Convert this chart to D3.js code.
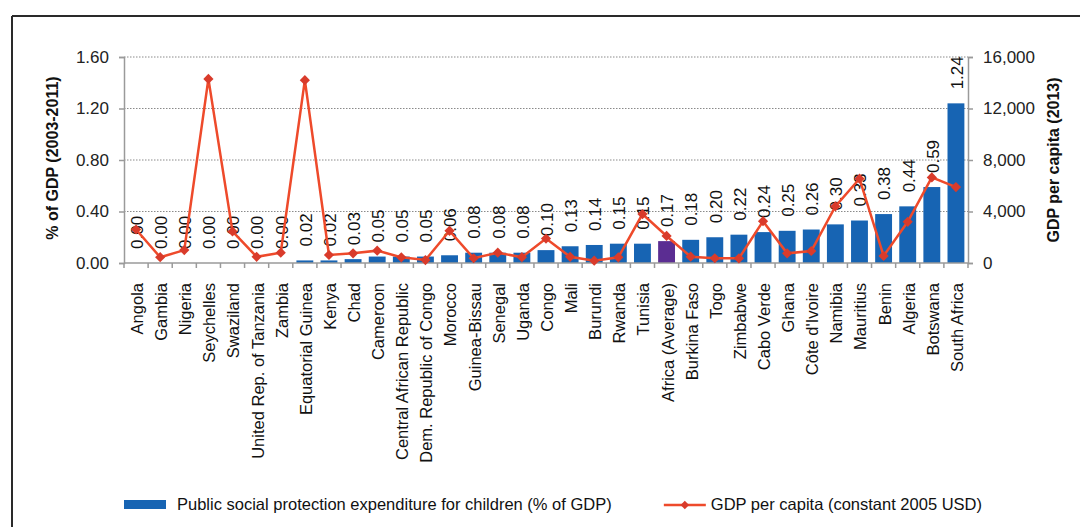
<!DOCTYPE html>
<html><head><meta charset="utf-8">
<script src="https://cdn.jsdelivr.net/npm/d3@7"></script>
<style>
html,body{margin:0;padding:0;background:#fff;}
svg{display:block;font-family:"Liberation Sans",Arial,sans-serif;}
</style></head>
<body>
<svg id="chart" width="1080" height="527"></svg>
<script>
const categories = ["Angola","Gambia","Nigeria","Seychelles","Swaziland","United Rep. of Tanzania","Zambia","Equatorial Guinea","Kenya","Chad","Cameroon","Central African Republic","Dem. Republic of Congo","Morocco","Guinea-Bissau","Senegal","Uganda","Congo","Mali","Burundi","Rwanda","Tunisia","Africa (Average)","Burkina Faso","Togo","Zimbabwe","Cabo Verde","Ghana","Côte d'Ivoire","Namibia","Mauritius","Benin","Algeria","Botswana","South Africa"];
const expenditure = [0,0,0,0,0,0,0,0.02,0.02,0.03,0.05,0.05,0.05,0.06,0.08,0.08,0.08,0.10,0.13,0.14,0.15,0.15,0.17,0.18,0.20,0.22,0.24,0.25,0.26,0.30,0.33,0.38,0.44,0.59,1.24];
const gdpPerCapita = [2600,450,1000,14300,2450,480,800,14200,620,750,960,440,230,2500,370,800,450,1900,480,180,440,3800,2100,490,370,360,3250,750,930,4400,6550,550,3200,6650,5900];
const leftTicks = [0,0.4,0.8,1.2,1.6];
const rightTicks = [0,4000,8000,12000,16000];
const highlight = "Africa (Average)";

const svg = d3.select("#chart");
const x0 = 124, x1 = 968, yTop = 57, yBot = 263;
const x = d3.scaleBand().domain(categories).range([x0, x1]).paddingInner(0.3).paddingOuter(0.15);
const yL = d3.scaleLinear().domain([0,1.6]).range([yBot, yTop]);
const yR = d3.scaleLinear().domain([0,16000]).range([yBot, yTop]);
const step = x.step();
const cx = d => x(d) + x.bandwidth()/2;

// frame
svg.append("line").attr("x1",12).attr("x2",1080).attr("y1",16).attr("y2",16).attr("stroke","#2a2a2a").attr("stroke-width",2);
svg.append("line").attr("x1",12).attr("x2",12).attr("y1",16).attr("y2",527).attr("stroke","#2a2a2a").attr("stroke-width",2);

// grid
svg.append("g").selectAll("line").data(leftTicks.filter(d=>d>0)).join("line")
  .attr("x1",x0).attr("x2",x1).attr("y1",d=>yL(d)).attr("y2",d=>yL(d))
  .attr("stroke","#8a8a8a").attr("stroke-width",1).attr("stroke-dasharray","1.5,1.5");

// bars
svg.append("g").selectAll("rect").data(categories).join("rect")
  .attr("x",d=>x(d)).attr("width",x.bandwidth())
  .attr("y",(d,i)=>yL(expenditure[i])).attr("height",(d,i)=>yBot-yL(expenditure[i]))
  .attr("fill",d=>d===highlight?"#5b2d92":"#1764b3");

// value labels
svg.append("g").selectAll("text").data(categories).join("text")
  .attr("transform",(d,i)=>`translate(${cx(d)},${yL(expenditure[i])-14}) rotate(-90)`)
  .attr("dy","0.4em").attr("text-anchor","start")
  .attr("font-size",17).attr("fill","#111")
  .text((d,i)=>expenditure[i].toFixed(2));

// axes
const axL = svg.append("g").attr("transform",`translate(${x0},0)`)
  .call(d3.axisLeft(yL).tickValues(leftTicks).tickFormat(d3.format(".2f")).tickSize(5).tickPadding(10));
const axR = svg.append("g").attr("transform",`translate(${x1},0)`)
  .call(d3.axisRight(yR).tickValues(rightTicks).tickFormat(d3.format(",")).tickSize(5).tickPadding(10));
[axL,axR].forEach(a=>{
  a.select(".domain").attr("stroke","#9a9a9a").attr("stroke-width",1.5);
  a.selectAll(".tick line").attr("stroke","#9a9a9a").attr("stroke-width",1.5);
  a.selectAll(".tick text").attr("font-size",17).attr("fill","#222").attr("font-family","'Liberation Sans',Arial,sans-serif");
});

// x axis
svg.append("line").attr("x1",x0).attr("x2",x1).attr("y1",yBot).attr("y2",yBot).attr("stroke","#9a9a9a").attr("stroke-width",1.5);
svg.append("g").selectAll("line").data(d3.range(categories.length+1)).join("line")
  .attr("x1",i=>x0+i*step).attr("x2",i=>x0+i*step).attr("y1",yBot).attr("y2",yBot+5)
  .attr("stroke","#9a9a9a").attr("stroke-width",1.5);
svg.append("g").selectAll("text").data(categories).join("text")
  .attr("transform",d=>`translate(${cx(d)},283) rotate(-90)`)
  .attr("dy","0.42em").attr("text-anchor","end")
  .attr("font-size",16.5).attr("fill","#111")
  .text(d=>d);

// line
const line = d3.line().x((d,i)=>cx(categories[i])).y(d=>yR(d));
svg.append("path").datum(gdpPerCapita).attr("d",line)
  .attr("fill","none").attr("stroke","#ee4a2b").attr("stroke-width",2.5);
svg.append("g").selectAll("path").data(gdpPerCapita).join("path")
  .attr("d",d3.symbol().type(d3.symbolSquare).size(52)())
  .attr("transform",(d,i)=>`translate(${cx(categories[i])},${yR(d)}) rotate(45)`)
  .attr("fill","#d93b2b");

// axis titles
svg.append("text").attr("transform","translate(52,158) rotate(-90)")
  .attr("text-anchor","middle").attr("dy","0.35em").attr("font-size",16).attr("font-weight","bold").attr("fill","#111")
  .text("% of GDP (2003-2011)");
svg.append("text").attr("transform","translate(1053,160) rotate(-90)")
  .attr("text-anchor","middle").attr("dy","0.35em").attr("font-size",16).attr("font-weight","bold").attr("fill","#111")
  .text("GDP per capita (2013)");

// legend
const lg = svg.append("g");
lg.append("rect").attr("x",124).attr("y",500).attr("width",42).attr("height",9).attr("fill","#1764b3");
lg.append("text").attr("x",177).attr("y",510).attr("font-size",16.5).attr("fill","#111")
  .text("Public social protection expenditure for children (% of GDP)");
const t2 = lg.append("text").attr("x",982).attr("y",510).attr("font-size",16.5).attr("fill","#111").attr("text-anchor","end")
  .text("GDP per capita (constant 2005 USD)");
const t2x = 982 - t2.node().getComputedTextLength();
lg.append("line").attr("x1",t2x-47).attr("x2",t2x-5).attr("y1",505).attr("y2",505).attr("stroke","#ee4a2b").attr("stroke-width",2.5);
lg.append("path").attr("d",d3.symbol().type(d3.symbolSquare).size(36)()).attr("transform",`translate(${t2x-26},505) rotate(45)`).attr("fill","#d93b2b");
</script>
</body></html>
